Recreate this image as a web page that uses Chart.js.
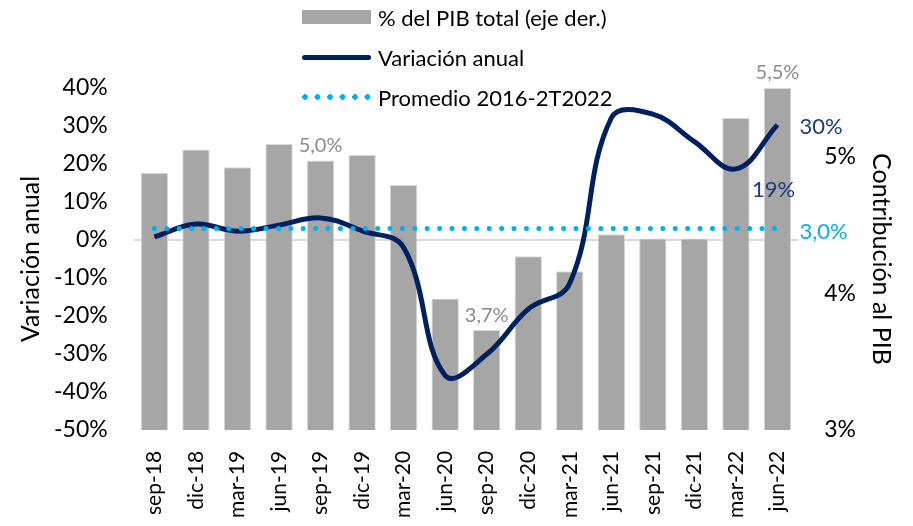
<!DOCTYPE html>
<html>
<head>
<meta charset="utf-8">
<script src="https://cdn.jsdelivr.net/npm/chart.js@4.4.1/dist/chart.umd.min.js"></script>
<style>
  html, body { margin: 0; padding: 0; background: #fff; }
  #wrap { position: relative; width: 913px; height: 526px; }
  #legend { position: absolute; left: 302px; top: 0; font-family: Lato, sans-serif; font-size: 22px; color: #000; }
  .item { position: absolute; left: 0; height: 26px; white-space: nowrap; display: flex; align-items: center; }
  .swatch { width: 69px; margin-right: 7px; }
</style>
</head>
<body>
<div id="wrap">
  <canvas id="chart"></canvas>
  <div id="legend"></div>
</div>
<script>
// trimestres
const trimestres = ['sep-18', 'dic-18', 'mar-19', 'jun-19', 'sep-19', 'dic-19', 'mar-20', 'jun-20',
  'sep-20', 'dic-20', 'mar-21', 'jun-21', 'sep-21', 'dic-21', 'mar-22', 'jun-22'];

// % del PIB total (eje derecho)
const pibShare = [4.88, 5.05, 4.92, 5.09, 4.97, 5.01, 4.79, 3.96, 3.73, 4.27, 4.16, 4.43, 4.40, 4.40, 5.28, 5.50];

// variación anual (eje izquierdo)
const variacion = [0.8, 4.2, 2.3, 3.9, 5.8, 2.4, -2.0, -35.7, -30.1, -18.2, -11.4, 32.1, 33.1, 25.9, 18.7, 30.3];

// promedio 2016-2T2022
const promedio = [3.0, 3.0, 3.0, 3.0, 3.0, 3.0, 3.0, 3.0, 3.0, 3.0, 3.0, 3.0, 3.0, 3.0, 3.0, 3.0];

// ticks
const ticksIzq = [-50, -40, -30, -20, -10, 0, 10, 20, 30, 40];
const ticksDer = [3, 4, 5];

// barras y puntos con etiqueta
const barrasConEtiqueta = [4, 8, 15];
const puntosConEtiqueta = [14, 15];

const FONT = 'Lato, sans-serif';
const coma = v => v.toFixed(1).replace('.', ',') + '%';

// etiquetas de datos
const etiquetas = {
  id: 'etiquetas',
  afterDatasetsDraw(chart) {
    const ctx = chart.ctx;
    ctx.save();

    ctx.font = '20px ' + FONT;
    const barras = chart.getDatasetMeta(0).data;
    ctx.fillStyle = '#8c8c8c';
    ctx.textAlign = 'center';
    ctx.textBaseline = 'bottom';
    barrasConEtiqueta.forEach(i => {
      ctx.fillText(coma(pibShare[i]), barras[i].x, barras[i].y - 5);
    });

    ctx.font = '22px ' + FONT;
    const linea = chart.getDatasetMeta(1).data;
    ctx.fillStyle = '#1f3c78';
    ctx.textAlign = 'left';
    ctx.textBaseline = 'middle';
    const p19 = linea[puntosConEtiqueta[0]];
    ctx.fillText(Math.round(variacion[puntosConEtiqueta[0]]) + '%', p19.x + 16, p19.y + 21);
    const p30 = linea[puntosConEtiqueta[1]];
    ctx.fillText(Math.round(variacion[puntosConEtiqueta[1]]) + '%', p30.x + 22, p30.y + 2);

    const prom = chart.getDatasetMeta(2).data;
    const ult = prom[prom.length - 1];
    ctx.fillStyle = '#00b0f0';
    ctx.fillText(coma(promedio[promedio.length - 1]), ult.x + 22, ult.y + 3);
    ctx.restore();
  }
};

const chart = new Chart(document.getElementById('chart'), {
  type: 'bar',
  data: {
    labels: trimestres,
    datasets: [{
      label: '% del PIB total (eje der.)',
      data: pibShare,
      yAxisID: 'y2',
      backgroundColor: '#a6a6a6',
      borderColor: '#d9d9d9',
      borderWidth: 1,
      categoryPercentage: 1,
      barPercentage: 0.66,
      order: 2
    }, {
      type: 'line',
      label: 'Variación anual',
      data: variacion,
      yAxisID: 'y',
      borderColor: '#002060',
      borderWidth: 5,
      tension: 0.4,
      pointRadius: 0,
      fill: false,
      order: 1
    }, {
      type: 'line',
      label: 'Promedio 2016-2T2022',
      data: promedio,
      yAxisID: 'y',
      borderColor: '#00b0f0',
      borderWidth: 5,
      borderDash: [0, 12.4],
      borderCapStyle: 'round',
      pointRadius: 0,
      fill: false,
      order: 0
    }]
  },
  options: {
    responsive: true,
    maintainAspectRatio: false,
    animation: false,
    layout: { padding: { top: 88, left: 0, right: 0, bottom: -5 } },
    plugins: {
      legend: { display: false },
      tooltip: { enabled: false }
    },
    scales: {
      x: {
        grid: { display: false },
        border: { display: false },
        ticks: {
          color: '#000',
          font: { family: FONT, size: 21 },
          minRotation: 90,
          maxRotation: 90,
          padding: 13
        }
      },
      y: {
        position: 'left',
        min: -50,
        max: 40,
        afterBuildTicks: s => { s.ticks = ticksIzq.map(v => ({ value: v })); },
        grid: {
          color: c => (c.tick && c.tick.value === 0 ? '#d9d9d9' : 'rgba(0,0,0,0)'),
          lineWidth: 2,
          drawTicks: false
        },
        border: { display: false },
        ticks: {
          color: '#000',
          font: { family: FONT, size: 23 },
          padding: 26,
          callback: v => v + '%'
        },
        title: {
          display: true,
          text: 'Variación anual',
          color: '#000',
          font: { family: FONT, size: 25 },
          padding: { top: 16, bottom: -18 }
        }
      },
      y2: {
        position: 'right',
        min: 3,
        max: 5.5,
        afterBuildTicks: s => { s.ticks = ticksDer.map(v => ({ value: v })); },
        grid: { display: false, drawTicks: false },
        border: { display: false },
        ticks: {
          color: '#000',
          font: { family: FONT, size: 23 },
          padding: 26,
          callback: v => v + '%'
        },
        title: {
          display: true,
          text: 'Contribución al PIB',
          color: '#000',
          font: { family: FONT, size: 25 },
          padding: { top: 17, bottom: -16 }
        }
      }
    }
  },
  plugins: [etiquetas]
});

// leyenda vertical en html
const centros = [17, 57, 97];
const leyenda = document.getElementById('legend');
chart.data.datasets.forEach((ds, i) => {
  const item = document.createElement('div');
  item.className = 'item';
  item.style.top = (centros[i] - 13) + 'px';
  const sw = document.createElement('div');
  sw.className = 'swatch';
  if (i === 0) {
    sw.style.height = '14px';
    sw.style.background = ds.backgroundColor;
  } else if (i === 1) {
    sw.style.height = '5px';
    sw.style.borderRadius = '3px';
    sw.style.background = ds.borderColor;
  } else {
    sw.style.height = '6px';
    sw.style.background = `radial-gradient(circle at 3px 3px, ${ds.borderColor} 2.6px, rgba(0,0,0,0) 3px) repeat-x`;
    sw.style.backgroundSize = '12.5px 6px';
  }
  const txt = document.createElement('span');
  txt.textContent = ds.label;
  item.appendChild(sw);
  item.appendChild(txt);
  leyenda.appendChild(item);
});
</script>
</body>
</html>
